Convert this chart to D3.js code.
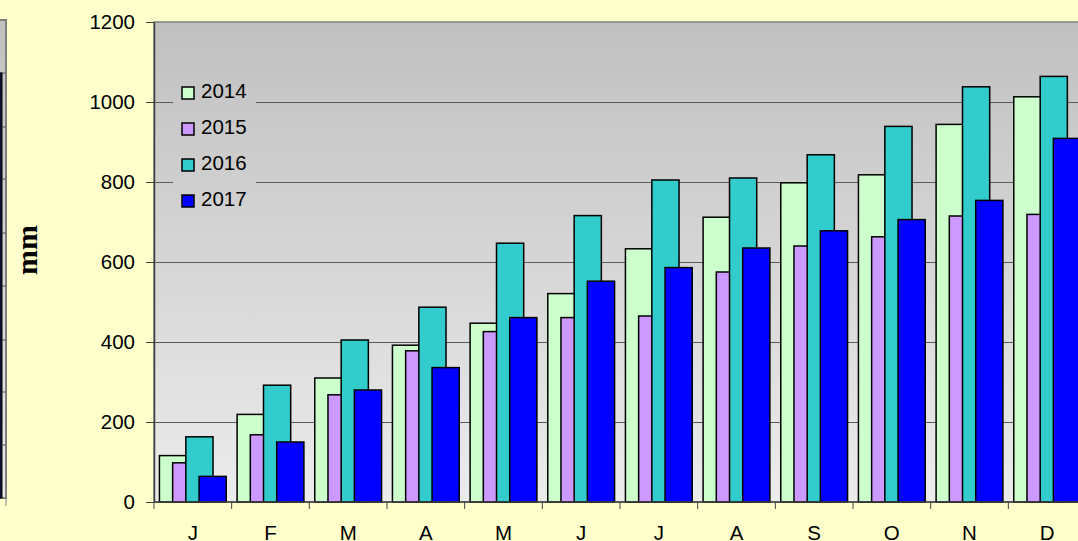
<!DOCTYPE html>
<html>
<head>
<meta charset="utf-8">
<script src="https://cdn.jsdelivr.net/npm/d3@7"></script>
<style>
  html, body { margin: 0; padding: 0; background: #ffffcc; overflow: hidden; }
  svg { display: block; }
</style>
</head>
<body>
<svg id="chart" width="1078" height="541"></svg>
<script>
// Chart data
const months = ['J', 'F', 'M', 'A', 'M', 'J', 'J', 'A', 'S', 'O', 'N', 'D'];
const years = ['2014', '2015', '2016', '2017'];
const colors = ['#ccffcc', '#cc99ff', '#33cccc', '#0000ff'];
const values2014 = [116, 219, 310, 392, 447, 521, 633, 712, 798, 818, 944, 1013];
const values2015 = [98, 168, 268, 378, 426, 461, 465, 575, 640, 663, 715, 719];
const values2016 = [163, 292, 405, 487, 647, 716, 805, 810, 868, 939, 1038, 1064];
const values2017 = [64, 150, 280, 336, 461, 552, 586, 635, 678, 706, 754, 909];
const yTicks = [0, 200, 400, 600, 800, 1000, 1200];

const series = [values2014, values2015, values2016, values2017];

const svg = d3.select('#chart');
const margin = { top: 22, left: 154, bottom: 502, right: 1086 };
const font = 'Liberation Sans, Arial, sans-serif';
const fontSize = 20.5;

const x = d3.scaleBand()
    .domain(d3.range(months.length))
    .range([margin.left, margin.right])
    .padding(0);

const y = d3.scaleLinear()
    .domain([0, 1200])
    .range([margin.bottom, margin.top]);

// gradient used by plot area and legend
const defs = svg.append('defs');
const grad = defs.append('linearGradient')
    .attr('id', 'plotGrad')
    .attr('gradientUnits', 'userSpaceOnUse')
    .attr('x1', 0).attr('y1', margin.top)
    .attr('x2', 0).attr('y2', margin.bottom);
grad.append('stop').attr('offset', '0%').attr('stop-color', '#c0c0c0');
grad.append('stop').attr('offset', '100%').attr('stop-color', '#ececec');

// fragment of the neighbouring chart on the left edge
svg.append('rect')
    .attr('x', -20).attr('y', 20).attr('width', 26).attr('height', 478)
    .attr('fill', 'url(#plotGrad)')
    .attr('stroke', '#808080').attr('stroke-width', 2);
svg.append('line')
    .attr('x1', -20).attr('x2', 6).attr('y1', 73).attr('y2', 73)
    .attr('stroke', '#606060');
svg.append('rect')
    .attr('x', -10).attr('y', 73).attr('width', 12).attr('height', 425)
    .attr('fill', '#101030').attr('stroke', '#000');
[127, 179, 233, 286, 340, 392, 445].forEach(gy => {
    svg.append('line')
        .attr('x1', 2).attr('x2', 6).attr('y1', gy).attr('y2', gy)
        .attr('stroke', '#505050');
});
svg.append('line')
    .attr('x1', 6).attr('x2', 6).attr('y1', 498).attr('y2', 506)
    .attr('stroke', '#808080');

// plot area
svg.append('rect')
    .attr('x', margin.left).attr('y', margin.top)
    .attr('width', margin.right - margin.left)
    .attr('height', margin.bottom - margin.top)
    .attr('fill', 'url(#plotGrad)')
    .attr('stroke', '#808080')
    .attr('stroke-width', 1.5);

// gridlines
svg.append('g')
    .selectAll('line')
    .data(yTicks.slice(1, -1))
    .enter()
    .append('line')
    .attr('x1', margin.left)
    .attr('x2', margin.right)
    .attr('y1', d => Math.round(y(d)) + 0.5)
    .attr('y2', d => Math.round(y(d)) + 0.5)
    .attr('stroke', '#5a5a5a')
    .attr('stroke-width', 1);

// legend (covers gridlines)
const legend = svg.append('g');
legend.append('rect')
    .attr('x', 173).attr('y', 74).attr('width', 83).attr('height', 144)
    .attr('fill', 'url(#plotGrad)');
years.forEach((yr, i) => {
    const ly = 87 + i * 36;
    legend.append('rect')
        .attr('x', 182).attr('y', ly).attr('width', 12).attr('height', 12)
        .attr('fill', colors[i])
        .attr('stroke', '#000').attr('stroke-width', 1.5);
    legend.append('text')
        .attr('x', 201).attr('y', ly + 11)
        .attr('font-family', font)
        .attr('font-size', fontSize)
        .attr('fill', '#000')
        .text(yr);
});

// bars
const bw = x.bandwidth();
series.forEach((vals, s) => {
    svg.append('g')
        .selectAll('rect')
        .data(vals)
        .enter()
        .append('rect')
        .attr('x', (d, i) => x(i) + bw * 0.07 + s * bw * 0.17)
        .attr('y', d => y(d))
        .attr('width', bw * 0.35)
        .attr('height', d => y(0) - y(d))
        .attr('fill', colors[s])
        .attr('stroke', '#000')
        .attr('stroke-width', 1.5);
});

// y axis
const yAxis = svg.append('g')
    .attr('transform', `translate(${margin.left},0)`)
    .call(d3.axisLeft(y).tickValues(yTicks).tickFormat(d3.format('d'))
        .tickSize(8).tickPadding(11).tickSizeOuter(0));
yAxis.select('.domain').attr('stroke', '#404040').attr('stroke-width', 1.5);
yAxis.selectAll('.tick line').attr('stroke', '#404040');
yAxis.selectAll('text')
    .attr('font-family', font)
    .attr('font-size', fontSize)
    .attr('fill', '#000');

// x axis: ticks at band boundaries, labels centred
const xAxis = svg.append('g')
    .attr('transform', `translate(0,${margin.bottom})`);
xAxis.append('line')
    .attr('x1', margin.left).attr('x2', margin.right)
    .attr('stroke', '#404040').attr('stroke-width', 1.5);
xAxis.selectAll('.xtick')
    .data(d3.range(months.length + 1))
    .enter()
    .append('line')
    .attr('x1', i => x(0) + i * bw)
    .attr('x2', i => x(0) + i * bw)
    .attr('y1', 0).attr('y2', 7)
    .attr('stroke', '#404040');
xAxis.selectAll('.xlabel')
    .data(months)
    .enter()
    .append('text')
    .attr('x', (d, i) => x(i) + bw / 2)
    .attr('y', 37.5)
    .attr('text-anchor', 'middle')
    .attr('font-family', font)
    .attr('font-size', fontSize)
    .attr('fill', '#000')
    .text(d => d);

// axis title
svg.append('text')
    .attr('transform', 'translate(37,250) rotate(-90)')
    .attr('text-anchor', 'middle')
    .attr('font-family', 'Liberation Serif, Times New Roman, serif')
    .attr('font-weight', 'bold')
    .attr('font-size', 30)
    .attr('fill', '#000')
    .text('mm');
</script>
</body>
</html>
